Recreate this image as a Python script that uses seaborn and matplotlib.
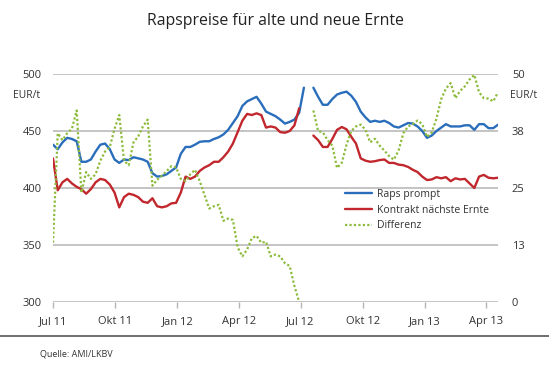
import numpy as np
import pandas as pd
import matplotlib
matplotlib.use("Agg")
import matplotlib.pyplot as plt
from matplotlib.lines import Line2D
import seaborn as sns

# weekly values, Jul 2011 - Apr 2013 (None = no quote)
raps_prompt = [
    438, 434, 440, 444, 443, 441, 423, 423, 425, 432,
    438, 439, 434, 425, 422, 425, 424.5, 427, 426, 425,
    423, 413, 410, 410.5, 412, 415, 418, 430, 436, 436,
    438, 440.5, 441, 441, 443, 444.5, 447, 451, 457, 463,
    472, 476, 478, 480, 474, 467, 465, 463, 460, 456.5,
    458, 460, 466, 488, None, 488, 480, 473, 473, 478,
    482, 483.5, 484.5, 481, 475.5, 467, 462, 458, 459, 458,
    459, 457, 454, 453, 455, 457, 456.5, 454, 450, 444,
    446, 450, 453, 456, 454, 454, 454, 455, 455, 451,
    456, 456, 452.5, 452.5, 455.5,
]
kontrakt = [
    426, 398, 405, 408, 404, 401, 399, 395, 399, 405,
    408, 407, 403, 396, 383, 392, 395, 394, 392, 388,
    387, 391, 384, 383, 384, 386.5, 387, 396, 410, 408,
    410, 415, 418, 420, 423, 423, 427, 432, 439, 449,
    459, 465, 464, 465.5, 464, 453, 454, 453, 449, 448.5,
    450, 455, 470, None, None, 446, 442, 436, 436, 443,
    451, 453.5, 451.5, 445, 439, 426, 424, 423, 423.5, 424.5,
    425, 422, 422, 420.5, 420, 418.5, 416, 414, 410, 407,
    407.5, 409.5, 408.5, 409.5, 406, 408.5, 407.5, 408, 404, 400,
    410, 411.5, 409, 408.5, 409,
]
differenz = [
    13, 37, 35.5, 37, 38, 42, 24, 28.5, 27, 28,
    31, 33, 34, 38, 41, 31, 30, 35, 36.3, 38.5,
    40, 25.5, 26.8, 27.7, 28.7, 29.8, 29.5, 27, 26.5, 28,
    29, 26.5, 23.5, 20.5, 21, 21.3, 17.8, 18.3, 18, 12,
    10, 11.5, 14, 14.5, 13, 13.2, 10, 10.4, 10, 8.5,
    7.9, 3.5, 0, None, None, 42, 37.5, 37.2, 35.5, 34.3,
    29.4, 30.5, 34.5, 37.5, 38.5, 38.9, 37.8, 35, 35.8, 34.3,
    33.2, 32, 31.2, 33.2, 37, 38.5, 39, 39.8, 39, 36.2,
    37.2, 40.2, 44.5, 46.8, 48, 44.7, 46.3, 47.3, 48.8, 49.8,
    46, 44.7, 44.6, 44, 46,
]

tick_dates = ["2011-07-01", "2011-10-01", "2012-01-01", "2012-04-01",
              "2012-07-01", "2012-10-01", "2013-01-01", "2013-04-01"]
tick_labels = ["Jul 11", "Okt 11", "Jan 12", "Apr 12",
               "Jul 12", "Okt 12", "Jan 13", "Apr 13"]
left_ticks = [300, 350, 400, 450, 500]
right_ticks = [0, 12.5, 25, 37.5, 50]
right_labels = ["0", "13", "25", "38", "50"]

BLUE = "#2a6ebb"
RED = "#c1272d"
GREEN = "#8dbb3c"
GRID = "#b4b4b4"
TXT = "#333333"
DOTS = (0, (1, 1))

sns.set_theme(style="white")
plt.rcParams["font.family"] = ["Open Sans", "DejaVu Sans"]

dates = pd.date_range("2011-07-01", periods=len(raps_prompt), freq="7D")
df = pd.DataFrame({"datum": dates, "raps": raps_prompt,
                   "kontrakt": kontrakt, "diff": differenz}).astype(
    {"raps": float, "kontrakt": float, "diff": float})
# segment id so the gap around the harvest stays open
df["seg"] = (df["datum"] > "2012-07-10").astype(int)

fig = plt.figure(figsize=(5.49, 3.74), dpi=100)
ax = fig.add_axes([53 / 549, 1 - 302 / 374, 445 / 549, 228 / 374])
ax2 = ax.twinx()

for col, c in [("raps", BLUE), ("kontrakt", RED)]:
    d = df.dropna(subset=[col])
    sns.lineplot(data=d, x="datum", y=col, units="seg", estimator=None,
                 color=c, lw=1.7, ax=ax, legend=False, zorder=3)

d = df.dropna(subset=["diff"])
sns.lineplot(data=d, x="datum", y="diff", units="seg", estimator=None,
             color=GREEN, lw=1.6, linestyle=DOTS, ax=ax2,
             legend=False, zorder=3)

ax.set_ylim(300, 500)
ax2.set_ylim(0, 50)
ax.set_xlim(dates[0], dates[-1])
ax.set_yticks(left_ticks)
ax.set_yticklabels([str(v) for v in left_ticks])
ax2.set_yticks(right_ticks)
ax2.set_yticklabels(right_labels)
ax.set_xticks(pd.to_datetime(tick_dates))
ax.set_xticklabels(tick_labels)

ax.grid(axis="y", color=GRID, lw=1.1)
ax.grid(axis="x", visible=False)
ax2.grid(False)
ax.set_zorder(1)
ax2.set_zorder(2)
ax.patch.set_visible(False)
ax2.patch.set_visible(False)
for a in (ax, ax2):
    for s in a.spines.values():
        s.set_visible(False)
    a.set_xlabel("")
    a.set_ylabel("")

ax.tick_params(axis="y", length=0, pad=8, labelsize=8, labelcolor=TXT)
ax2.tick_params(axis="y", length=0, pad=10, labelsize=8, labelcolor=TXT)
ax.tick_params(axis="x", length=4, width=1, color=GRID, direction="out",
               pad=6, labelsize=8, labelcolor=TXT, bottom=True)

fig.text(27 / 549, 1 - 95 / 374, "EUR/t", ha="center", va="center",
         fontsize=7.5, color=TXT)
fig.text(524 / 549, 1 - 95 / 374, "EUR/t", ha="center", va="center",
         fontsize=7.5, color=TXT)

fig.text(275 / 549, 1 - 21 / 374, "Rapspreise für alte und neue Ernte",
         ha="center", va="center", fontsize=11.4, color="#222222")

handles = [Line2D([], [], color=BLUE, lw=1.7),
           Line2D([], [], color=RED, lw=1.7),
           Line2D([], [], color=GREEN, lw=1.6, linestyle=DOTS)]
fig.legend(handles, ["Raps prompt", "Kontrakt nächste Ernte", "Differenz"],
           loc="upper left", bbox_to_anchor=(345 / 549, 1 - 189 / 374),
           frameon=False, fontsize=7.5, handlelength=2.6, handletextpad=0.45,
           labelspacing=0.45, borderpad=0, borderaxespad=0,
           labelcolor=TXT)

fig.add_artist(Line2D([0, 1], [1 - 336 / 374] * 2, transform=fig.transFigure,
                      color="#555555", lw=1.2))
fig.text(40 / 549, 1 - 354 / 374, "Quelle: AMI/LKBV", ha="left",
         va="center", fontsize=6.5, color=TXT)

fig.savefig("out.png", dpi=100)
